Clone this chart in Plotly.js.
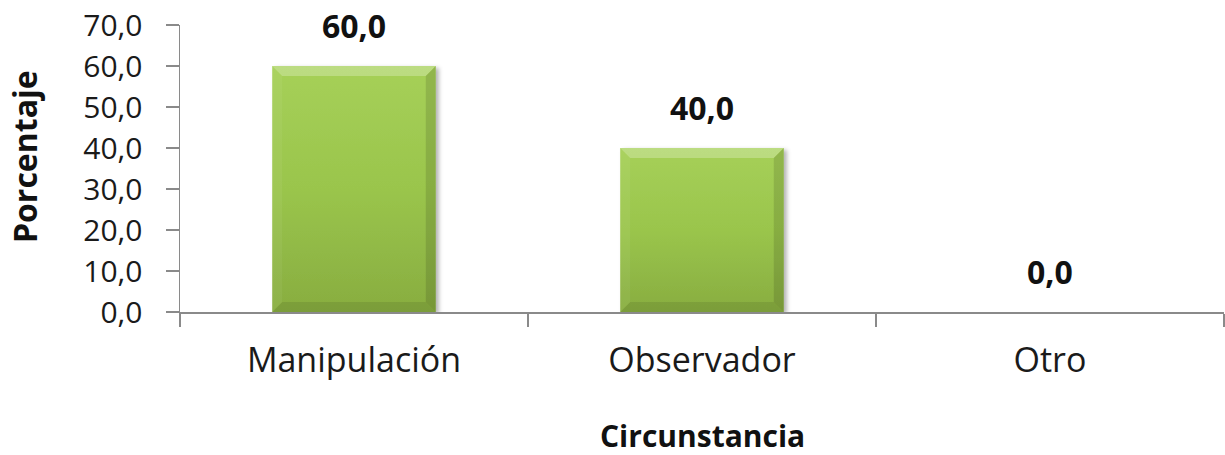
<!DOCTYPE html>
<html>
<head>
<meta charset="utf-8">
<script src="https://cdn.plot.ly/plotly-3.0.1.min.js"></script>
<style>html,body{margin:0;padding:0;background:#fff;}#chart{width:1225px;height:455px;}</style>
</head>
<body>
<div id="chart"></div>
<script>
const categories = ["Manipulación", "Observador", "Otro"];
const values = [60.0, 40.0, 0.0];
const valueLabels = ["60,0", "40,0", "0,0"];
const yTickValues = [0, 10, 20, 30, 40, 50, 60, 70];
const yTickLabels = ["0,0", "10,0", "20,0", "30,0", "40,0", "50,0", "60,0", "70,0"];
const xTitle = "Circunstancia";
const yTitle = "Porcentaje";

const FONT = "'Open Sans', 'Noto Sans', sans-serif";
const axisColor = "#8a8a8a";

const trace = {
  type: "bar",
  x: categories,
  y: values,
  marker: { color: "#95bf48", line: { width: 0 } },
  hoverinfo: "none"
};

const annotations = categories.map((c, i) => ({
  x: c, y: values[i], xref: "x", yref: "y",
  text: "<b>" + valueLabels[i] + "</b>",
  showarrow: false, yanchor: "middle", yshift: 41,
  font: { family: FONT, size: 32, color: "#111111" }
}));
annotations.push({
  xref: "paper", yref: "paper", x: -0.147, y: 0.5, xanchor: "center", yanchor: "middle",
  yshift: 12, xshift: -2, borderpad: 0,
  text: "<b>" + yTitle + "</b>", textangle: -90, showarrow: false,
  font: { family: FONT, size: 32, color: "#111111" }
});
annotations.push({
  xref: "paper", yref: "paper", x: 0.5, y: 0, xanchor: "center", yanchor: "middle",
  yshift: -123, borderpad: 0,
  text: "<b>" + xTitle + "</b>", showarrow: false,
  font: { family: FONT, size: 30, color: "#111111" }
});

const layout = {
  width: 1225, height: 455,
  margin: { l: 180, r: 1, t: 25, b: 143 },
  paper_bgcolor: "#ffffff", plot_bgcolor: "#ffffff",
  bargap: 0.53,
  showlegend: false,
  font: { family: FONT, color: "#1a1a1a" },
  xaxis: {
    type: "category",
    showline: true, linecolor: axisColor, linewidth: 1.5,
    ticks: "outside", tickson: "boundaries", ticklen: 13, tickcolor: axisColor, tickwidth: 1.5,
    tickfont: { family: FONT, size: 34, color: "#1a1a1a" },
    ticklabelstandoff: 18,
    showgrid: false, zeroline: false, fixedrange: true
  },
  yaxis: {
    range: [0, 70],
    tickvals: yTickValues, ticktext: yTickLabels,
    showline: true, linecolor: axisColor, linewidth: 1.5,
    ticks: "outside", ticklen: 13, tickcolor: axisColor, tickwidth: 1.5,
    tickfont: { family: FONT, size: 30, color: "#1a1a1a" },
    ticklabelstandoff: 17,
    showgrid: false, zeroline: false, fixedrange: true
  },
  shapes: [{
    type: "line", xref: "paper", yref: "y", ysizemode: "pixel", yanchor: 0,
    x0: 0, x1: 0, y0: 0, y1: -13,
    line: { color: axisColor, width: 1.5 }
  }],
  annotations: annotations
};

Plotly.newPlot("chart", [trace], layout, { staticPlot: true, displayModeBar: false }).then(() => {
  const svg = document.querySelector("#chart svg.main-svg");
  const ns = "http://www.w3.org/2000/svg";
  let defs = svg.querySelector("defs");
  if (!defs) { defs = document.createElementNS(ns, "defs"); svg.insertBefore(defs, svg.firstChild); }
  const g = document.createElementNS(ns, "linearGradient");
  g.setAttribute("id", "barGrad");
  g.setAttribute("x1", "0"); g.setAttribute("y1", "0"); g.setAttribute("x2", "0"); g.setAttribute("y2", "1");
  [["0", "#a6d058"], ["0.5", "#9ac54c"], ["1", "#88ad40"]].forEach(([o, c]) => {
    const s = document.createElementNS(ns, "stop");
    s.setAttribute("offset", o); s.setAttribute("stop-color", c);
    g.appendChild(s);
  });
  defs.appendChild(g);
  const f = document.createElementNS(ns, "filter");
  f.setAttribute("id", "barShadow");
  f.setAttribute("x", "-10%"); f.setAttribute("y", "-10%"); f.setAttribute("width", "130%"); f.setAttribute("height", "130%");
  const ds = document.createElementNS(ns, "feDropShadow");
  ds.setAttribute("dx", "3"); ds.setAttribute("dy", "2"); ds.setAttribute("stdDeviation", "2");
  ds.setAttribute("flood-color", "#000"); ds.setAttribute("flood-opacity", "0.3");
  f.appendChild(ds);
  defs.appendChild(f);

  document.querySelectorAll("#chart .bars path").forEach(p => {
    const bb = p.getBBox();
    if (bb.height < 2) { p.style.opacity = 0; return; }
    p.style.fill = "url(#barGrad)";
    p.setAttribute("filter", "url(#barShadow)");
    const x0 = bb.x, x1 = bb.x + bb.width, y0 = bb.y, y1 = bb.y + bb.height;
    const b = Math.min(10, bb.height / 4);
    const polys = [
      [[x0, y0], [x1, y0], [x1 - b, y0 + b], [x0 + b, y0 + b], "#ffffff", 0.25],
      [[x0, y0], [x0 + b, y0 + b], [x0 + b, y1 - b], [x0, y1], "#ffffff", 0.05],
      [[x1, y0], [x1, y1], [x1 - b, y1 - b], [x1 - b, y0 + b], "#000000", 0.12],
      [[x0, y1], [x1, y1], [x1 - b, y1 - b], [x0 + b, y1 - b], "#000000", 0.09]
    ];
    polys.forEach(pp => {
      const poly = document.createElementNS(ns, "polygon");
      poly.setAttribute("points", pp.slice(0, 4).map(q => q.join(",")).join(" "));
      poly.setAttribute("fill", pp[4]);
      poly.setAttribute("fill-opacity", pp[5]);
      p.parentNode.appendChild(poly);
    });
  });
});
</script>
</body>
</html>
